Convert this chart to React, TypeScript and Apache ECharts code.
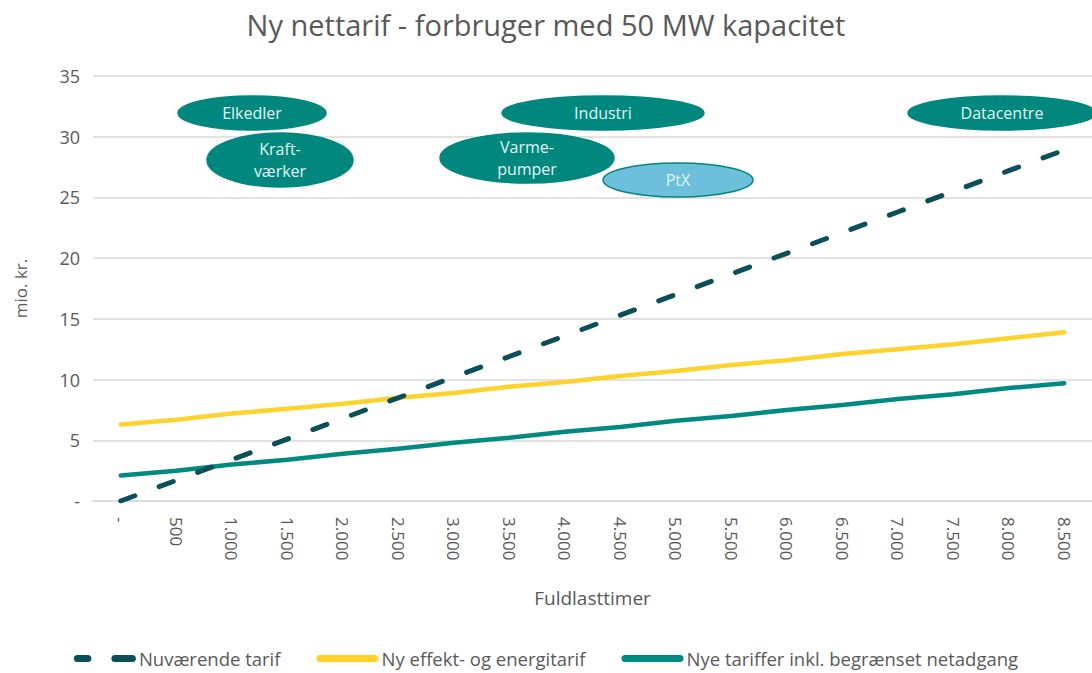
import React, { useEffect, useRef } from "react";
import * as echarts from "echarts";

const categories = ["-", "500", "1.000", "1.500", "2.000", "2.500", "3.000", "3.500", "4.000", "4.500", "5.000", "5.500", "6.000", "6.500", "7.000", "7.500", "8.000", "8.500"];
const nuvaerende = [0, 1.7, 3.4, 5.1, 6.8, 8.5, 10.2, 11.9, 13.6, 15.3, 17.0, 18.7, 20.4, 22.1, 23.8, 25.5, 27.2, 28.9];
const nyEffekt = [6.3, 6.7, 7.2, 7.6, 8.0, 8.5, 8.9, 9.4, 9.8, 10.3, 10.7, 11.2, 11.6, 12.1, 12.5, 12.9, 13.4, 13.9];
const nyeTariffer = [2.1, 2.5, 3.0, 3.4, 3.9, 4.3, 4.8, 5.2, 5.7, 6.1, 6.6, 7.0, 7.5, 7.9, 8.4, 8.8, 9.3, 9.7];
const seriesNames = ["Nuværende tarif", "Ny effekt- og energitarif", "Nye tariffer inkl. begrænset netadgang"];
const yTicks = [0, 5, 10, 15, 20, 25, 30, 35];
const bubbles = [
  { label: "Elkedler", cx: 252, cy: 113, rx: 74, ry: 17, light: false },
  { label: "Kraft-\nværker", cx: 280, cy: 160, rx: 73, ry: 27, light: false },
  { label: "Industri", cx: 603, cy: 113, rx: 101, ry: 17, light: false },
  { label: "Varme-\npumper", cx: 527, cy: 158, rx: 87, ry: 25, light: false },
  { label: "PtX", cx: 678, cy: 180, rx: 75, ry: 17, light: true },
  { label: "Datacentre", cx: 1002, cy: 113, rx: 94, ry: 17, light: false },
];

const FONT = "'Open Sans', 'Noto Sans', sans-serif";
const GREY = "#595959";
const DARK = "#0d4f59";
const YELLOW = "#fdd22b";
const TEAL = "#008a82";

const DASH_ICON =
  "path://M3.5,0 H14 A3.5,3.5 0 0 1 14,7 H3.5 A3.5,3.5 0 0 1 3.5,0 Z M41,0 H58.5 A3.5,3.5 0 0 1 58.5,7 H41 A3.5,3.5 0 0 1 41,0 Z";
const SOLID_ICON = "path://M3.5,0 H58.5 A3.5,3.5 0 0 1 58.5,7 H3.5 A3.5,3.5 0 0 1 3.5,0 Z";

export default function App() {
  const ref = useRef<HTMLDivElement>(null);
  useEffect(() => {
    if (!ref.current) return;
    const chart = echarts.init(ref.current, undefined, { renderer: "svg" });
    const graphics: any[] = [];
    bubbles.forEach((b) => {
      graphics.push({
        type: "ellipse",
        shape: { cx: b.cx, cy: b.cy, rx: b.rx, ry: b.ry },
        style: { fill: b.light ? "#6cc0dc" : "#00877e", stroke: "#00877e", lineWidth: 1.5 },
        z: 10,
      });
      graphics.push({
        type: "text",
        x: b.cx,
        y: b.cy,
        style: {
          text: b.label,
          fill: "#e3f3f1",
          font: `16px ${FONT}`,
          align: "center",
          verticalAlign: "middle",
          lineHeight: 22,
        },
        z: 11,
      });
    });
    chart.setOption({
      animation: false,
      backgroundColor: "#ffffff",
      title: {
        text: "Ny nettarif - forbruger med 50 MW kapacitet",
        left: "center",
        top: 5,
        textStyle: { fontFamily: FONT, fontSize: 29, fontWeight: "normal", color: GREY },
      },
      grid: { left: 93, right: 0, top: 76, bottom: 172, containLabel: false },
      xAxis: {
        type: "category",
        data: categories,
        boundaryGap: true,
        name: "Fuldlasttimer",
        nameLocation: "middle",
        nameGap: 87,
        nameTextStyle: { fontFamily: FONT, fontSize: 19, color: GREY },
        axisLine: { lineStyle: { color: "#d9d9d9", width: 1.5 } },
        axisTick: { show: false },
        axisLabel: { rotate: -90, fontFamily: FONT, fontSize: 17, color: GREY, margin: 16 },
      },
      yAxis: {
        type: "value",
        min: 0,
        max: 35,
        interval: 5,
        name: "mio. kr.",
        nameLocation: "middle",
        nameGap: 64,
        nameTextStyle: { fontFamily: FONT, fontSize: 17, color: GREY },
        axisLine: { show: false },
        axisTick: { show: false },
        axisLabel: {
          fontFamily: FONT,
          fontSize: 18,
          color: GREY,
          margin: 13,
          formatter: (v: number) => (v === yTicks[0] ? "-" : String(v)),
        },
        splitLine: { lineStyle: { color: "#d9d9d9", width: 1.5 } },
      },
      legend: {
        bottom: 0,
        left: "center",
        itemWidth: 62,
        itemHeight: 7,
        itemGap: 36,
        textStyle: { fontFamily: FONT, fontSize: 18.5, color: GREY, padding: [0, 0, 0, -2] },
        data: [
          { name: seriesNames[0], icon: DASH_ICON, itemStyle: { color: DARK } },
          { name: seriesNames[1], icon: SOLID_ICON, itemStyle: { color: YELLOW } },
          { name: seriesNames[2], icon: SOLID_ICON, itemStyle: { color: TEAL } },
        ],
      },
      series: [
        {
          name: seriesNames[0],
          type: "line",
          data: nuvaerende,
          showSymbol: false,
          symbol: "none",
          lineStyle: { color: DARK, width: 5, type: [15, 26], cap: "round" },
          itemStyle: { color: DARK },
          z: 3,
        },
        {
          name: seriesNames[1],
          type: "line",
          data: nyEffekt,
          showSymbol: false,
          symbol: "none",
          lineStyle: { color: YELLOW, width: 4.5, cap: "round" },
          itemStyle: { color: YELLOW },
          z: 2,
        },
        {
          name: seriesNames[2],
          type: "line",
          data: nyeTariffer,
          showSymbol: false,
          symbol: "none",
          lineStyle: { color: TEAL, width: 4.5, cap: "round" },
          itemStyle: { color: TEAL },
          z: 2,
        },
      ],
      graphic: graphics,
    });
    return () => chart.dispose();
  }, []);
  return <div ref={ref} style={{ position: "fixed", left: 0, top: 0, width: 1092, height: 673 }} />;
}
